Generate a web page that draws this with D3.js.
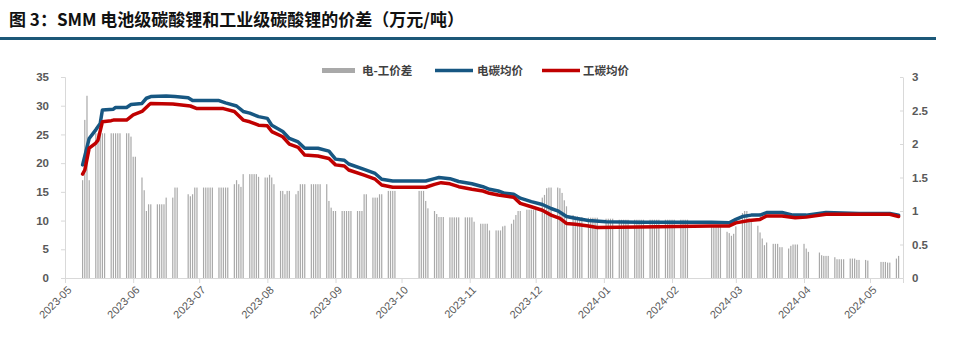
<!DOCTYPE html>
<html>
<head>
<meta charset="utf-8">
<script src="https://cdn.jsdelivr.net/npm/d3@7"></script>
<style>
  html, body { margin: 0; padding: 0; background: #ffffff; }
  svg { display: block; }
</style>
</head>
<body>
<svg id="chart" width="969" height="342"></svg>
<script>
// ---- data ----
const titleText = "图 3：SMM 电池级碳酸锂和工业级碳酸锂的价差（万元/吨）";
const seriesNames = ["电-工价差", "电碳均价", "工碳均价"];

// trading calendar: weekdays from firstDay to lastDay, minus market holidays
const firstDay = "2023-05-09";
const lastDay = "2024-05-14";
const closedDays = [
  "2023-06-22", "2023-06-23",
  "2023-09-29", "2023-10-02", "2023-10-03", "2023-10-04", "2023-10-05", "2023-10-06",
  "2024-01-01",
  "2024-02-09", "2024-02-12", "2024-02-13", "2024-02-14", "2024-02-15", "2024-02-16",
  "2024-04-04", "2024-04-05",
  "2024-05-01", "2024-05-02", "2024-05-03"
];

// daily spread, battery grade minus industrial grade (万元/吨), one row per week
const spread = [
  1.46, 2.36, 2.72, 1.46,
  2.16, 2.16, 2.16, 2.16, 2.16,
  2.16, 2.16, 2.16, 2.16, 2.16,
  2.16, 2.16, 2.11, 1.81, 1.81,
  1.50, 1.31, 1.00, 1.10, 1.10,
  1.10, 1.10, 1.10, 1.10, 1.20,
  1.20, 1.35, 1.35,
  1.25, 1.22, 1.25, 1.35, 1.35,
  1.35, 1.35, 1.35, 1.35, 1.35,
  1.35, 1.35, 1.35, 1.35, 1.35,
  1.40, 1.46, 1.40, 1.36, 1.55,
  1.55, 1.55, 1.55, 1.55, 1.51,
  1.50, 1.50, 1.54, 1.50, 1.40,
  1.30, 1.30, 1.25, 1.30, 1.30,
  1.25, 1.30, 1.40, 1.40, 1.40,
  1.40, 1.40, 1.40, 1.40, 1.40,
  1.40, 1.15, 1.05, 1.00, 1.00,
  1.00, 1.00, 1.00, 1.00, 1.00,
  1.00, 1.00, 1.00, 1.25, 1.25,
  1.20, 1.20, 1.20, 1.25, 1.25,
  1.30, 1.30, 1.30, 1.30,
  1.30, 1.30, 1.30, 1.15, 1.04,
  1.00, 0.955, 0.91, 0.91, 0.91,
  0.905, 0.905, 0.905, 0.905, 0.905,
  0.905, 0.905, 0.905, 0.905, 0.84,
  0.81, 0.81, 0.81, 0.81, 0.71,
  0.71, 0.71, 0.71, 0.77, 0.78,
  0.81, 0.87, 0.94, 1.00, 1.00,
  1.02, 1.02, 1.02, 1.02, 1.02,
  1.20, 1.24, 1.34, 1.35, 1.35,
  1.35, 1.34, 1.27, 1.16, 1.07,
  0.94, 0.92, 0.92, 0.91, 0.91,
  0.90, 0.90, 0.90, 0.90, 0.90,
  0.885, 0.885, 0.885, 0.885,
  0.87, 0.87, 0.87, 0.87, 0.87,
  0.87, 0.87, 0.87, 0.87, 0.87,
  0.87, 0.87, 0.87, 0.87, 0.87,
  0.87, 0.87, 0.87, 0.87, 0.87,
  0.87, 0.87, 0.87, 0.87,
  0.77, 0.77, 0.77, 0.77, 0.77,
  0.69, 0.67, 0.63, 0.66, 0.77,
  0.97, 1.00, 1.00, 0.89, 0.84,
  0.78, 0.68, 0.59, 0.49, 0.53,
  0.51, 0.51, 0.51, 0.46, 0.46,
  0.44, 0.48, 0.50, 0.50, 0.50,
  0.51, 0.44, 0.39,
  0.38, 0.34, 0.33, 0.33, 0.33,
  0.31, 0.28, 0.28, 0.28, 0.28,
  0.29, 0.29, 0.29, 0.27, 0.27,
  0.27, 0.26,
  0.24, 0.24, 0.24, 0.23, 0.23,
  0.29, 0.33
];

// battery-grade average price (万元/吨)
const batteryDates = [
  "2023-05-09", "2023-05-12", "2023-05-15", "2023-05-17", "2023-05-18", "2023-05-23",
  "2023-05-24", "2023-05-29", "2023-05-31", "2023-06-05", "2023-06-07", "2023-06-09",
  "2023-06-16", "2023-06-20", "2023-06-26", "2023-06-28", "2023-07-10", "2023-07-13",
  "2023-07-18", "2023-07-21", "2023-07-24", "2023-07-28", "2023-08-01", "2023-08-03",
  "2023-08-08", "2023-08-11", "2023-08-15", "2023-08-18", "2023-08-24", "2023-08-29",
  "2023-09-01", "2023-09-05", "2023-09-07", "2023-09-14", "2023-09-19", "2023-09-22",
  "2023-09-27", "2023-10-12", "2023-10-16", "2023-10-18", "2023-10-23", "2023-10-27",
  "2023-11-02", "2023-11-07", "2023-11-10", "2023-11-14", "2023-11-17", "2023-11-21",
  "2023-11-24", "2023-11-29", "2023-12-04", "2023-12-08", "2023-12-11", "2023-12-15",
  "2023-12-19", "2023-12-25", "2024-01-02", "2024-01-17", "2024-02-19", "2024-02-27",
  "2024-03-01", "2024-03-04", "2024-03-08", "2024-03-12", "2024-03-15", "2024-03-22",
  "2024-03-27", "2024-04-02", "2024-04-11", "2024-04-26", "2024-05-10", "2024-05-14"
];
const batteryPrice = [
  19.7, 24.3, 25.8, 26.9, 29.25, 29.4,
  29.7, 29.7, 30.2, 30.4, 31.3, 31.6,
  31.7, 31.6, 31.4, 30.9, 30.9, 30.5,
  29.95, 29.0, 28.7, 28.1, 27.8, 26.6,
  25.5, 24.3, 23.7, 22.6, 22.6, 22.1,
  20.7, 20.5, 19.85, 18.9, 18.2, 17.2,
  16.9, 16.9, 17.3, 17.5, 17.3, 16.8,
  16.4, 15.9, 15.45, 15.15, 14.75, 14.6,
  13.9, 13.3, 12.8, 12.1, 11.7, 10.7,
  10.4, 10.0, 9.8, 9.7, 9.7, 9.6,
  10.2, 10.7, 10.95, 10.95, 11.4, 11.4,
  10.95, 10.95, 11.4, 11.25, 11.25, 10.95
];

// industrial-grade average price (万元/吨)
const industrialDates = [
  "2023-05-09", "2023-05-10", "2023-05-12", "2023-05-15", "2023-05-16", "2023-05-18",
  "2023-05-22", "2023-05-23", "2023-05-29", "2023-06-01", "2023-06-05", "2023-06-08",
  "2023-06-09", "2023-06-19", "2023-06-27", "2023-06-30", "2023-07-12", "2023-07-17",
  "2023-07-21", "2023-07-24", "2023-07-28", "2023-08-01", "2023-08-03", "2023-08-08",
  "2023-08-11", "2023-08-15", "2023-08-18", "2023-08-24", "2023-08-29", "2023-09-01",
  "2023-09-05", "2023-09-07", "2023-09-14", "2023-09-19", "2023-09-22", "2023-09-27",
  "2023-10-12", "2023-10-16", "2023-10-19", "2023-10-23", "2023-10-27", "2023-11-02",
  "2023-11-07", "2023-11-10", "2023-11-14", "2023-11-21", "2023-11-24", "2023-11-29",
  "2023-12-04", "2023-12-08", "2023-12-12", "2023-12-15", "2023-12-19", "2023-12-25",
  "2023-12-29", "2024-01-17", "2024-02-19", "2024-02-27", "2024-03-01", "2024-03-07",
  "2024-03-12", "2024-03-15", "2024-03-22", "2024-03-28", "2024-04-02", "2024-04-11",
  "2024-05-10", "2024-05-14"
];
const industrialPrice = [
  18.1, 18.8, 22.6, 23.5, 24.0, 27.2,
  27.4, 27.5, 27.5, 28.4, 29.0, 30.1,
  30.4, 30.3, 29.95, 29.5, 29.5, 29.0,
  27.5, 27.2, 26.6, 26.5, 25.5, 24.6,
  23.3, 22.75, 21.4, 21.25, 20.8, 19.7,
  19.5, 18.8, 17.9, 17.2, 16.2, 15.8,
  15.8, 16.3, 16.6, 16.4, 15.9, 15.45,
  15.15, 14.75, 14.45, 14.05, 13.0, 12.4,
  11.8, 10.95, 10.4, 9.5, 9.35, 9.05,
  8.8, 8.9, 9.05, 9.05, 9.6, 10.0,
  10.2, 10.8, 10.8, 10.5, 10.6, 11.1,
  11.1, 10.7
];

const monthTicks = ["2023-05", "2023-06", "2023-07", "2023-08", "2023-09", "2023-10", "2023-11",
                    "2023-12", "2024-01", "2024-02", "2024-03", "2024-04", "2024-05"];
const leftTicks = [0, 5, 10, 15, 20, 25, 30, 35];
const rightTicks = [0, 0.5, 1, 1.5, 2, 2.5, 3];
const axisStart = "2023-05-01";
const axisEnd = "2024-05-16";

// ---- layout & styles ----
const colors = { spread: "#a9a9a9", battery: "#175782", industrial: "#c00000", rule: "#1c5878",
                 axis: "#d9d9d9", tickText: "#595959", legendText: "#404040" };
const plot = { left: 65, right: 903, top: 77, bottom: 278 };

const parseDay = d3.timeParse("%Y-%m-%d");
const parseMonth = d3.timeParse("%Y-%m");

const closedSet = new Set(closedDays);
const tradeDays = d3.timeDay.range(parseDay(firstDay), d3.timeDay.offset(parseDay(lastDay), 1))
  .filter(d => d.getDay() !== 0 && d.getDay() !== 6 && !closedSet.has(d3.timeFormat("%Y-%m-%d")(d)));

const spreadData = tradeDays.map((d, i) => ({ date: d, value: spread[i] }))
  .filter(d => d.value !== undefined);
const batteryData = batteryDates.map((d, i) => ({ date: parseDay(d), value: batteryPrice[i] }));
const industrialData = industrialDates.map((d, i) => ({ date: parseDay(d), value: industrialPrice[i] }));

const x = d3.scaleTime().domain([parseDay(axisStart), parseDay(axisEnd)]).range([plot.left, plot.right]);
const yL = d3.scaleLinear().domain([0, 35]).range([plot.bottom, plot.top]);
const yR = d3.scaleLinear().domain([0, 3]).range([plot.bottom, plot.top]);

const svg = d3.select("#chart");

// title and rule
svg.append("text")
  .attr("x", 9).attr("y", 26)
  .attr("font-family", "'Noto Sans CJK SC', sans-serif")
  .attr("font-weight", 700).attr("font-size", 17)
  .attr("fill", "#111")
  .text(titleText);
svg.append("rect")
  .attr("x", 0).attr("y", 37).attr("width", 936).attr("height", 3)
  .attr("fill", colors.rule);

// spread bars (right axis)
const barW = 1.2;
svg.append("g").selectAll("rect").data(spreadData).join("rect")
  .attr("x", d => x(d.date) - barW / 2)
  .attr("y", d => yR(d.value))
  .attr("width", barW)
  .attr("height", d => yR(0) - yR(d.value))
  .attr("fill", colors.spread);

// axes
const tickFont = "'Liberation Sans', Arial, sans-serif";
const gL = svg.append("g").attr("transform", `translate(${plot.left},0)`)
  .call(d3.axisLeft(yL).tickValues(leftTicks).tickSize(4).tickPadding(12).tickFormat(d3.format("d")));
const gR = svg.append("g").attr("transform", `translate(${plot.right},0)`)
  .call(d3.axisRight(yR).tickValues(rightTicks).tickSize(0).tickPadding(9).tickFormat(d => String(d)));
gR.selectAll(".tick").append("line").attr("x1", -3).attr("x2", 0).attr("stroke", colors.axis);
const gX = svg.append("g").attr("transform", `translate(0,${plot.bottom})`)
  .call(d3.axisBottom(x).tickValues(monthTicks.map(parseMonth)).tickSize(5).tickFormat(d3.timeFormat("%Y-%m")));

[gL, gR, gX].forEach(g => {
  g.select(".domain").attr("stroke", colors.axis);
  g.selectAll(".tick line").attr("stroke", colors.axis);
  g.selectAll("text").attr("fill", colors.tickText).attr("font-family", tickFont);
});
gL.selectAll("text").attr("font-size", 11.5).attr("font-weight", 700);
gR.selectAll("text").attr("font-size", 11.5).attr("font-weight", 700);
gX.selectAll("text")
  .attr("font-size", 11)
  .attr("text-anchor", "end")
  .attr("dy", "0.35em")
  .attr("transform", "translate(4,10) rotate(-45)")
  .attr("y", 0).attr("x", 0);

// price lines (left axis)
const line = d3.line().x(d => x(d.date)).y(d => yL(d.value));
svg.append("path").datum(batteryData)
  .attr("d", line).attr("fill", "none")
  .attr("stroke", colors.battery).attr("stroke-width", 3.5)
  .attr("stroke-linejoin", "round").attr("stroke-linecap", "round");
svg.append("path").datum(industrialData)
  .attr("d", line).attr("fill", "none")
  .attr("stroke", colors.industrial).attr("stroke-width", 3.5)
  .attr("stroke-linejoin", "round").attr("stroke-linecap", "round");

// legend
const legend = svg.append("g").attr("font-family", "'Noto Sans CJK SC', sans-serif")
  .attr("font-weight", 700).attr("font-size", 11.5).attr("fill", colors.legendText);
const legendItems = [
  { name: seriesNames[0], kind: "bar", color: colors.spread, x0: 322, x1: 355, tx: 362 },
  { name: seriesNames[1], kind: "line", color: colors.battery, x0: 435, x1: 473, tx: 477 },
  { name: seriesNames[2], kind: "line", color: colors.industrial, x0: 542, x1: 580, tx: 583 }
];
const legendY = 70.5;
legendItems.forEach(it => {
  if (it.kind === "bar") {
    legend.append("rect").attr("x", it.x0).attr("y", legendY - 2.5)
      .attr("width", it.x1 - it.x0).attr("height", 5).attr("fill", it.color);
  } else {
    legend.append("line").attr("x1", it.x0).attr("x2", it.x1)
      .attr("y1", legendY).attr("y2", legendY)
      .attr("stroke", it.color).attr("stroke-width", 3.5);
  }
  legend.append("text").attr("x", it.tx).attr("y", legendY).attr("dy", "0.36em").text(it.name);
});
</script>
</body>
</html>
